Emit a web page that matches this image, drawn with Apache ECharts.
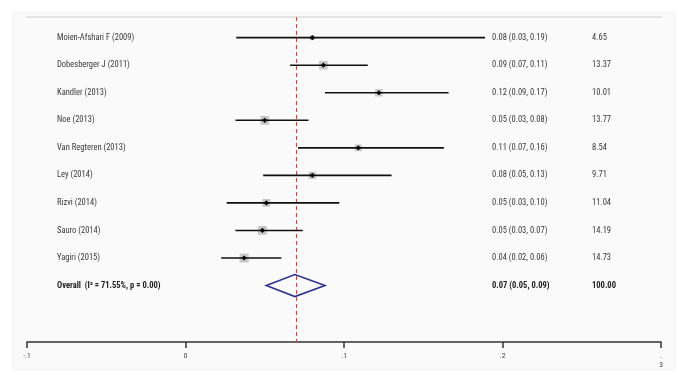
<!DOCTYPE html>
<html>
<head>
<meta charset="utf-8">
<script src="https://cdn.jsdelivr.net/npm/echarts@6/dist/echarts.min.js"></script>
<style>html,body{margin:0;padding:0;background:#fff}#c{width:689px;height:377px}</style>
</head>
<body>
<div id="c"></div>
<script>
var studies = ["Moien-Afshari F (2009)","Dobesberger J (2011)","Kandler (2013)","Noe (2013)","Van Regteren (2013)","Ley (2014)","Rizvi (2014)","Sauro (2014)","Yagiri (2015)"];
var estimates = [0.080, 0.087, 0.122, 0.050, 0.109, 0.080, 0.051, 0.0485, 0.037];
var lowerCI  = [0.032, 0.066, 0.088, 0.0315, 0.071, 0.049, 0.026, 0.0315, 0.0225];
var upperCI  = [0.189, 0.115, 0.166, 0.0776, 0.163, 0.130, 0.097, 0.074, 0.0605];
var weights  = [4.65, 13.37, 10.01, 13.77, 8.54, 9.71, 11.04, 14.19, 14.73];
var esText   = ["0.08 (0.03, 0.19)","0.09 (0.07, 0.11)","0.12 (0.09, 0.17)","0.05 (0.03, 0.08)","0.11 (0.07, 0.16)","0.08 (0.05, 0.13)","0.05 (0.03, 0.10)","0.05 (0.03, 0.07)","0.04 (0.02, 0.06)"];
var weightText = ["4.65","13.37","10.01","13.77","8.54","9.71","11.04","14.19","14.73"];
var overallLabel = "Overall  (I\u00B2 = 71.55%, p = 0.00)";
var overallEst = 0.069, overallLow = 0.051, overallHigh = 0.088;
var overallEsText = "0.07 (0.05, 0.09)";
var overallWeightText = "100.00";
var xTicks = [-0.1, 0, 0.1, 0.2, 0.3];
var xTickLabels = ["-.1", "0", ".1", ".2", ".\n3"];

var FONT = '"Liberation Sans Narrow","Roboto Condensed","Liberation Sans",sans-serif';
var TXT = '#3a3a3a';
var X_LABEL = 57, X_ES = 492, X_W = 592;

var studyData = studies.map(function(s, i){ return [i, estimates[i], lowerCI[i], upperCI[i], weights[i]]; });

var chart = echarts.init(document.getElementById('c'), null, {renderer:'canvas'});
chart.setOption({
  backgroundColor: '#ffffff',
  animation: false,
  graphic: [{
    type: 'rect', z: -10, silent: true,
    shape: {x: 13, y: 13, width: 662, height: 357},
    style: {fill: '#fafafa', stroke: '#f0f0f0', lineWidth: 1}
  }],
  grid: {left: 27, right: 28, top: 17, bottom: 35},
  xAxis: [{
    type: 'value', min: -0.1, max: 0.3, interval: 0.1, position: 'bottom',
    axisLine: {show: true, onZero: false, lineStyle: {color: '#333', width: 1.5}},
    axisTick: {show: true, inside: false, length: 6, lineStyle: {color: '#333', width: 1.5}},
    splitLine: {show: false},
    axisLabel: {
      show: true, margin: 10, fontSize: 7.5, color: '#444', fontFamily: FONT, lineHeight: 9,
      showMinLabel: true, showMaxLabel: true,
      formatter: function(v){
        for (var k = 0; k < xTicks.length; k++) if (Math.abs(v - xTicks[k]) < 1e-9) return xTickLabels[k];
        return '';
      }
    }
  }, {
    type: 'value', min: -0.1, max: 0.3, interval: 0.1, position: 'top',
    axisLine: {show: true, onZero: false, lineStyle: {color: '#e4e4e4', width: 2}},
    axisTick: {show: false}, axisLabel: {show: false}, splitLine: {show: false}
  }],
  yAxis: {type: 'value', inverse: true, min: -0.75, max: 11.05, show: false, splitLine: {show: false}},
  series: [{
    type: 'line', data: [], silent: true,
    markLine: {
      symbol: 'none', silent: true, label: {show: false},
      lineStyle: {type: [4, 3], color: '#c94a44', width: 1},
      data: [{xAxis: overallEst}]
    }
  }, {
    type: 'custom', z: 5,
    data: studyData,
    renderItem: function(params, api){
      var i = api.value(0);
      var pe = api.coord([api.value(1), i]);
      var pl = api.coord([api.value(2), i]);
      var ph = api.coord([api.value(3), i]);
      var side = 2.35 * Math.sqrt(api.value(4));
      var y = pe[1];
      var d = 2.6;
      return {type: 'group', children: [
        {type: 'rect', shape: {x: pe[0] - side/2, y: y - side/2, width: side, height: side}, style: {fill: '#c8c8c8'}},
        {type: 'line', shape: {x1: pl[0], y1: y, x2: ph[0], y2: y}, style: {stroke: '#111', lineWidth: 1.6}},
        {type: 'polygon', shape: {points: [[pe[0]-d, y], [pe[0], y-d], [pe[0]+d, y], [pe[0], y+d]]}, style: {fill: '#000'}},
        {type: 'text', style: {x: X_LABEL, y: y, text: studies[i], fill: TXT, font: '8.5px ' + FONT, textVerticalAlign: 'middle', verticalAlign: 'middle'}},
        {type: 'text', style: {x: X_ES, y: y, text: esText[i], fill: TXT, font: '8.5px ' + FONT, textVerticalAlign: 'middle', verticalAlign: 'middle'}},
        {type: 'text', style: {x: X_W, y: y, text: weightText[i], fill: TXT, font: '8.5px ' + FONT, textVerticalAlign: 'middle', verticalAlign: 'middle'}}
      ]};
    }
  }, {
    type: 'custom', z: 5,
    data: [[studies.length, overallEst, overallLow, overallHigh]],
    renderItem: function(params, api){
      var i = api.value(0);
      var pe = api.coord([api.value(1), i]);
      var pl = api.coord([api.value(2), i]);
      var ph = api.coord([api.value(3), i]);
      var y = pe[1], h = 11;
      return {type: 'group', children: [
        {type: 'polygon', shape: {points: [[pl[0], y], [pe[0], y-h], [ph[0], y], [pe[0], y+h]]}, style: {fill: 'rgba(0,0,0,0)', stroke: '#2e3192', lineWidth: 1.6}},
        {type: 'text', style: {x: X_LABEL, y: y, text: overallLabel, fill: '#222', font: 'bold 8.5px ' + FONT, textVerticalAlign: 'middle', verticalAlign: 'middle'}},
        {type: 'text', style: {x: X_ES, y: y, text: overallEsText, fill: '#222', font: 'bold 8.5px ' + FONT, textVerticalAlign: 'middle', verticalAlign: 'middle'}},
        {type: 'text', style: {x: X_W, y: y, text: overallWeightText, fill: '#222', font: 'bold 8.5px ' + FONT, textVerticalAlign: 'middle', verticalAlign: 'middle'}}
      ]};
    }
  }]
});
</script>
</body>
</html>
